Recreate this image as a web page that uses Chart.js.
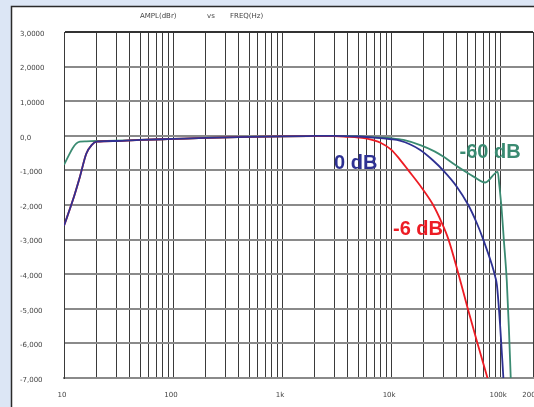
<!DOCTYPE html>
<html>
<head>
<meta charset="utf-8">
<script src="https://cdn.jsdelivr.net/npm/chart.js@4.4.0/dist/chart.umd.min.js"></script>
<style>
  html, body { margin: 0; padding: 0; background: #dce6f5; }
  canvas { display: block; }
</style>
</head>
<body>
<canvas id="c" width="534" height="407"></canvas>
<script>
// Frequency grid (Hz): 1-2-3...9 per decade, 10 Hz to 200 kHz
const gridFreqs = [10, 20, 30, 40, 50, 60, 70, 80, 90,
  100, 200, 300, 400, 500, 600, 700, 800, 900,
  1000, 2000, 3000, 4000, 5000, 6000, 7000, 8000, 9000,
  10000, 20000, 30000, 40000, 50000, 60000, 70000, 80000, 90000,
  100000, 200000];
const xLabelValues = [10, 100, 1000, 10000, 100000, 200000];
const xLabelTexts = ['10', '100', '1k', '10k', '100k', '200k'];

const yTickValues = [3, 2, 1, 0, -1, -2, -3, -4, -5, -6, -7];
const yTickTexts = ['3,0000', '2,0000', '1,0000', '0,0', '-1,000', '-2,000',
  '-3,000', '-4,000', '-5,000', '-6,000', '-7,000'];

// 0 dB level response
const freq0 = [10, 12, 14, 16, 18, 20, 30, 50, 100, 200, 500, 1000, 2000, 3000,
  5000, 7000, 10000, 12000, 15000, 18500, 24000, 30000, 40000, 51000, 61000,
  70000, 84000, 90000, 93300, 100000, 107000];
const amp0 = [-2.60, -1.88, -1.18, -0.52, -0.26, -0.17, -0.15, -0.12, -0.09, -0.06,
  -0.03, -0.015, -0.005, 0, -0.02, -0.05, -0.10, -0.14, -0.25, -0.41, -0.70,
  -1.00, -1.47, -2.00, -2.52, -3.00, -3.73, -4.07, -4.31, -5.50, -7.00];

// -6 dB level response
const freq6 = [10, 12, 14, 16, 18, 20, 30, 50, 100, 200, 500, 1000, 2000, 3000,
  4000, 5000, 6000, 8000, 10000, 12000, 14400, 19050, 24300, 29000, 33600,
  41500, 50500, 62000, 76500];
const amp6 = [-2.60, -1.88, -1.18, -0.52, -0.26, -0.17, -0.15, -0.12, -0.09, -0.06,
  -0.03, -0.015, -0.01, -0.01, -0.03, -0.05, -0.08, -0.20, -0.40, -0.68, -1.00,
  -1.50, -2.00, -2.50, -3.00, -4.00, -5.00, -6.00, -7.00];

// -60 dB level response
const freq60 = [10, 11, 12, 13, 14, 16, 20, 30, 50, 100, 200, 500, 1000, 2000, 3000,
  5000, 8000, 10000, 13000, 18500, 25000, 30000, 43000, 57000, 73000, 95000,
  98000, 103000, 108000, 115000, 120000, 125000];
const amp60 = [-0.84, -0.58, -0.36, -0.22, -0.17, -0.16, -0.15, -0.14, -0.12, -0.09,
  -0.06, -0.03, -0.015, -0.005, 0, -0.02, -0.05, -0.07, -0.12, -0.27, -0.45,
  -0.60, -0.94, -1.18, -1.35, -1.04, -1.40, -2.10, -3.00, -4.20, -5.50, -7.00];

const NAVY = '#2e3192';
const RED = '#ed1c24';
const GREEN = '#3b8b72';

const pts = (xs, ys) => xs.map((x, i) => ({ x, y: ys[i] }));

// Panel background, title and curve captions
const decor = {
  id: 'decor',
  beforeDraw(chart) {
    const c = chart.ctx;
    c.save();
    c.fillStyle = '#dce6f5';
    c.fillRect(0, 0, chart.width, chart.height);
    c.fillStyle = '#ffffff';
    c.fillRect(11, 6, chart.width - 11, chart.height - 6);
    c.strokeStyle = '#2a2a2a';
    c.lineWidth = 1.5;
    c.beginPath();
    c.moveTo(11.5, chart.height);
    c.lineTo(11.5, 6.5);
    c.lineTo(chart.width, 6.5);
    c.stroke();
    c.fillStyle = '#444';
    c.font = '7px "DejaVu Sans"';
    c.textBaseline = 'alphabetic';
    c.fillText('AMPL(dBr)', 140, 18);
    c.fillText('vs', 207, 18);
    c.fillText('FREQ(Hz)', 230, 18);
    c.restore();
  },
  afterDatasetsDraw(chart) {
    const c = chart.ctx;
    const xs = chart.scales.x, ys = chart.scales.y;
    c.save();
    c.font = 'bold 20px "Liberation Sans", Arial, sans-serif';
    c.textBaseline = 'alphabetic';
    c.textAlign = 'left';
    const cap = (t, f, v, col) => {
      c.fillStyle = col;
      c.fillText(t, xs.getPixelForValue(f), ys.getPixelForValue(v));
    };
    cap('0 dB', 3000, -0.96, NAVY);
    cap('-6 dB', 10400, -2.88, RED);
    cap('-60 dB', 42400, -0.65, GREEN);
    c.restore();
  }
};

const lineStyle = { pointRadius: 0, borderWidth: 1.8, cubicInterpolationMode: 'monotone', fill: false };

new Chart(document.getElementById('c'), {
  type: 'line',
  data: {
    datasets: [
      Object.assign({ label: '0 dB', data: pts(freq0, amp0), borderColor: NAVY }, lineStyle),
      Object.assign({ label: '-6 dB', data: pts(freq6, amp6), borderColor: RED }, lineStyle),
      Object.assign({ label: '-60 dB', data: pts(freq60, amp60), borderColor: GREEN }, lineStyle)
    ]
  },
  options: {
    responsive: false,
    animation: false,
    events: [],
    layout: { padding: { left: 20, top: 32, right: 1, bottom: 0 } },
    plugins: { legend: { display: false }, tooltip: { enabled: false }, title: { display: false } },
    scales: {
      x: {
        type: 'logarithmic',
        min: 10,
        max: 200000,
        afterBuildTicks: s => { s.ticks = gridFreqs.map(v => ({ value: v })); },
        afterFit: s => { s.height = 29; s.paddingLeft = 0; s.paddingRight = 0; },
        grid: { color: '#3a3a3a', lineWidth: 1, drawTicks: false },
        border: { color: '#8a8a8a', width: 2 },
        ticks: {
          autoSkip: false, maxRotation: 0, minRotation: 0, padding: 13, labelOffset: -2,
          color: '#444', font: { family: 'DejaVu Sans', size: 7 },
          callback: v => { const i = xLabelValues.indexOf(v); return i >= 0 ? xLabelTexts[i] : ''; }
        }
      },
      y: {
        min: -7,
        max: 3,
        afterBuildTicks: s => { s.ticks = yTickValues.map(v => ({ value: v })); },
        afterFit: s => { s.width = 44; s.paddingTop = 0; s.paddingBottom = 0; },
        grid: {
          color: ctx => (ctx.tick && ctx.tick.value === 3) ? '#333' : '#8a8a8a',
          lineWidth: 2, drawTicks: false
        },
        border: { color: '#3a3a3a', width: 1 },
        ticks: {
          crossAlign: 'far', padding: 0, labelOffset: 2,
          color: '#444', font: { family: 'DejaVu Sans', size: 7 },
          callback: v => { const i = yTickValues.indexOf(v); return i >= 0 ? yTickTexts[i] : ''; }
        }
      }
    }
  },
  plugins: [decor]
});
</script>
</body>
</html>
